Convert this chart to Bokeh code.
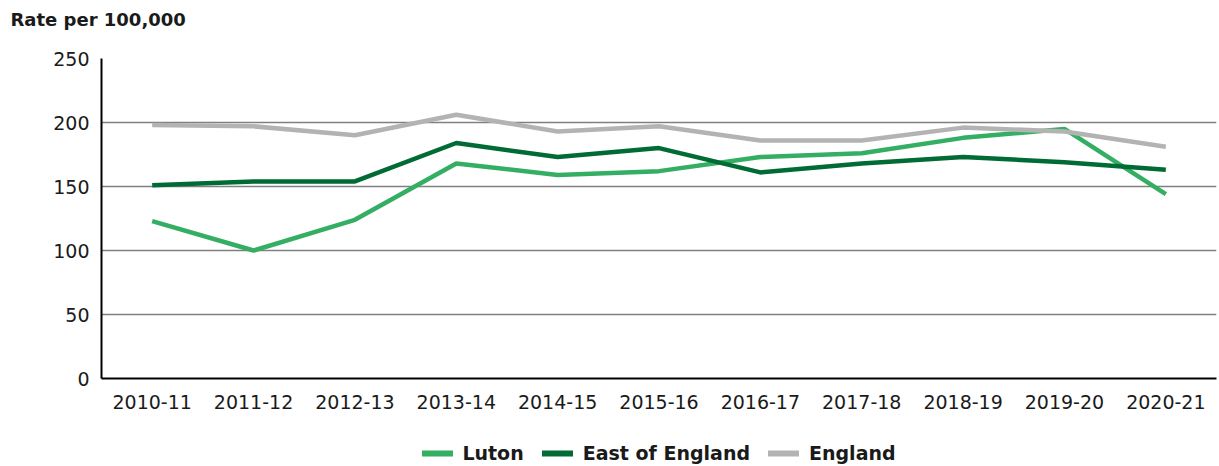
from bokeh.plotting import figure
from bokeh.layouts import column
from bokeh.models import Legend, LegendItem, FixedTicker, Title
from bokeh.embed import file_html
from bokeh.resources import INLINE

years = ["2010-11", "2011-12", "2012-13", "2013-14", "2014-15", "2015-16",
         "2016-17", "2017-18", "2018-19", "2019-20", "2020-21"]
luton = [123, 100, 124, 168, 159, 162, 173, 176, 188, 195, 144]
east_of_england = [151, 154, 154, 184, 173, 180, 161, 168, 173, 169, 163]
england = [198, 197, 190, 206, 193, 197, 186, 186, 196, 193, 181]
y_ticks = [0, 50, 100, 150, 200, 250]

series_names = ["Luton", "East of England", "England"]
series_values = [luton, east_of_england, england]
series_colors = ["#34AE63", "#006B35", "#B3B3B3"]

FONT = "DejaVu Sans"

p = figure(x_range=years, y_range=(0, 250), title=None,
           width=1219, height=428,
           output_backend="svg", toolbar_location=None,
           min_border_left=101, min_border_right=3, min_border_top=58,
           min_border_bottom=50)

spacer = Title(text=" ", text_font_size="20px", standoff=0)
p.add_layout(spacer, "above")
title = Title(text="Rate per 100,000", text_font=FONT, text_font_size="18px",
              text_font_style="bold", text_color="#1a1a1a", align="left",
              offset=-91)
p.add_layout(title, "above")

for vals, color in zip(series_values, series_colors):
    p.line(years, vals, line_color=color, line_width=4.5)

p.outline_line_color = None
p.xgrid.grid_line_color = None
p.ygrid.grid_line_color = "#808080"
p.ygrid.grid_line_width = 1.5
p.yaxis.ticker = FixedTicker(ticks=y_ticks)

for ax in (p.xaxis, p.yaxis):
    ax.axis_line_color = "#000000"
    ax.axis_line_width = 2
    ax.major_tick_line_color = None
    ax.minor_tick_line_color = None
    ax.major_tick_out = 0
    ax.major_tick_in = 0
    ax.major_label_text_font = FONT
    ax.major_label_text_font_size = "19px"
    ax.major_label_text_color = "#1a1a1a"
p.yaxis.major_label_standoff = 12
p.xaxis.major_label_standoff = 16

# legend strip (its lines lie outside this strip's visible range)
lg = figure(x_range=years, y_range=(1000, 1010), width=1219, height=38,
            output_backend="svg", toolbar_location=None,
            x_axis_type=None, y_axis_type=None,
            min_border_left=101, min_border_right=3, min_border_top=0,
            min_border_bottom=0)
lg.outline_line_color = None
lg.xgrid.grid_line_color = None
lg.ygrid.grid_line_color = None
items = []
for name, vals, color in zip(series_names, series_values, series_colors):
    r = lg.line(years, vals, line_color=color, line_width=6, line_cap="round")
    items.append(LegendItem(label=name, renderers=[r]))

legend = Legend(items=items, orientation="horizontal", location="bottom_center",
                label_text_font=FONT, label_text_font_size="19px",
                label_text_font_style="bold", label_text_color="#1a1a1a",
                glyph_width=31, glyph_height=20, label_standoff=10, spacing=18,
                border_line_color=None, background_fill_alpha=0,
                padding=0, margin=2)
lg.add_layout(legend, "center")

layout = column(p, lg, spacing=0)
open("out.html", "w").write(file_html(layout, INLINE))
